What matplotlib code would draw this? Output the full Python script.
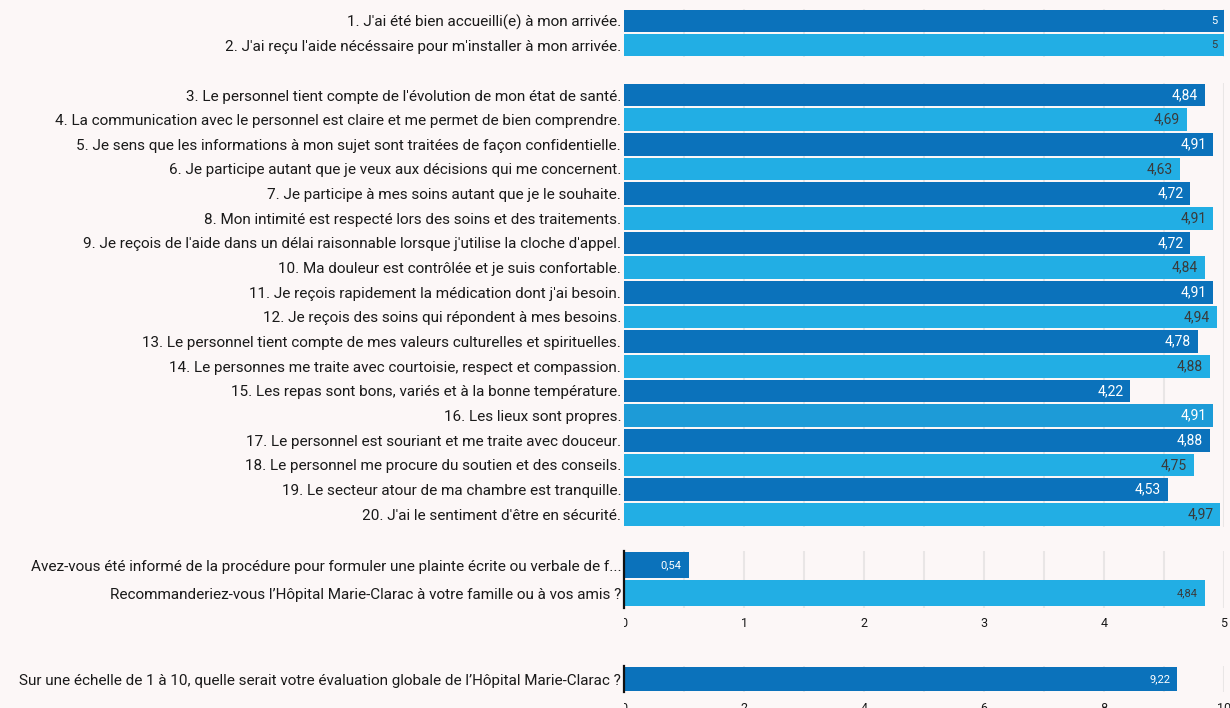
import matplotlib
matplotlib.use("Agg")
import matplotlib.pyplot as plt
import matplotlib.transforms as mtransforms
import numpy as np

plt.rcParams['font.family'] = ['Roboto', 'DejaVu Sans']

# ---- data ----
accueil_labels = [
    "1. J'ai été bien accueilli(e) à mon arrivée.",
    "2. J'ai reçu l'aide nécéssaire pour m'installer à mon arrivée.",
]
accueil_values = [5, 5]

soins_labels = [
    "3. Le personnel tient compte de l'évolution de mon état de santé.",
    "4. La communication avec le personnel est claire et me permet de bien comprendre.",
    "5. Je sens que les informations à mon sujet sont traitées de façon confidentielle.",
    "6. Je participe autant que je veux aux décisions qui me concernent.",
    "7. Je participe à mes soins autant que je le souhaite.",
    "8. Mon intimité est respecté lors des soins et des traitements.",
    "9. Je reçois de l'aide dans un délai raisonnable lorsque j'utilise la cloche d'appel.",
    "10. Ma douleur est contrôlée et je suis confortable.",
    "11. Je reçois rapidement la médication dont j'ai besoin.",
    "12. Je reçois des soins qui répondent à mes besoins.",
    "13. Le personnel tient compte de mes valeurs culturelles et spirituelles.",
    "14. Le personnes me traite avec courtoisie, respect et compassion.",
    "15. Les repas sont bons, variés et à la bonne température.",
    "16. Les lieux sont propres.",
    "17. Le personnel est souriant et me traite avec douceur.",
    "18. Le personnel me procure du soutien et des conseils.",
    "19. Le secteur atour de ma chambre est tranquille.",
    "20. J'ai le sentiment d'être en sécurité.",
]
soins_values = [4.84, 4.69, 4.91, 4.63, 4.72, 4.91, 4.72, 4.84, 4.91,
                4.94, 4.78, 4.88, 4.22, 4.91, 4.88, 4.75, 4.53, 4.97]

plainte_labels = [
    "Avez-vous été informé de la procédure pour formuler une plainte écrite ou verbale de f...",
    "Recommanderiez-vous l’Hôpital Marie-Clarac à votre famille ou à vos amis ?",
]
plainte_values = [0.54, 4.84]

globale_labels = [
    "Sur une échelle de 1 à 10, quelle serait votre évaluation globale de l’Hôpital Marie-Clarac ?",
]
globale_values = [9.22]

# ---- style ----
BG = "#fcf7f7"
DARK = "#0b72bb"
LIGHT = "#22aee4"
MID = "#1d9bd7"
GRID = "#e9e6e6"
TXT_DARK = "#3a3a3a"
W, H = 1230, 708

fig = plt.figure(figsize=(W / 100, H / 100), dpi=100, facecolor=BG)

X0, X1 = 624, 1224


def make_axes(top_px, bottom_px):
    return fig.add_axes([X0 / W, 1 - bottom_px / H, (X1 - X0) / W,
                         (bottom_px - top_px) / H])


def style_axes(ax, xmax, grid_step, spine=False):
    ax.set_facecolor("none")
    ax.set_xlim(0, xmax)
    for s in ax.spines.values():
        s.set_visible(False)
    if spine:
        ax.spines['left'].set_visible(True)
        ax.spines['left'].set_color("#111111")
        ax.spines['left'].set_linewidth(1.6)
    ax.set_axisbelow(True)
    for gx in np.arange(grid_step, xmax + 1e-9, grid_step):
        ax.axvline(gx, color=GRID, lw=1.5, zorder=0)
    ax.tick_params(axis='y', length=0, pad=2, labelsize=11, labelcolor="#1a1a1a")
    ax.tick_params(axis='x', length=0, pad=7, labelsize=9, labelcolor="#1a1a1a")


def draw_bars(ax, labels, values, colors, label_colors, fs):
    y = np.arange(len(values))
    ax.barh(y, values, height=0.92, color=colors, zorder=2)
    ax.set_ylim(len(values) - 0.5, -0.5)
    ax.set_yticks(y)
    ax.set_yticklabels(labels)
    for yi, v, c in zip(y, values, label_colors):
        txt = f"{v:g}".replace(".", ",")
        ax.annotate(txt, xy=(v, yi), xytext=(-5, 0), textcoords="offset points",
                    ha="right", va="center", fontsize=fs, color=c, zorder=3)


# panel 1
ax1 = make_axes(9, 57)
style_axes(ax1, 5, 0.5)
draw_bars(ax1, accueil_labels, accueil_values, [DARK, LIGHT],
          ["white", TXT_DARK], 8)
ax1.set_xticks([])

# panel 2
ax2 = make_axes(82.7, 526.5)
style_axes(ax2, 5, 0.5)
soins_colors = [DARK if i % 2 == 0 else LIGHT for i in range(len(soins_values))]
soins_colors[13] = MID
soins_text = ["white" if c != LIGHT else TXT_DARK for c in soins_colors]
draw_bars(ax2, soins_labels, soins_values, soins_colors, soins_text, 10)
ax2.set_xticks([])

# panel 3
ax3 = make_axes(551, 607.5)
style_axes(ax3, 5, 0.5, spine=True)
draw_bars(ax3, plainte_labels, plainte_values, [DARK, LIGHT],
          ["white", TXT_DARK], 8)
ax3.set_xticks(np.arange(0, 6, 1))
ax3.set_xticklabels([str(i) for i in range(6)])

# panel 4
ax4 = make_axes(666, 692)
style_axes(ax4, 10, 1, spine=True)
draw_bars(ax4, globale_labels, globale_values, [DARK], ["white"], 8)
ax4.set_xticks(np.arange(0, 11, 2))
ax4.set_xticklabels([str(i) for i in range(0, 11, 2)])

# tick labels are cut at the left edge of the plotting area
for ax in (ax3, ax4):
    clip = mtransforms.TransformedBbox(mtransforms.Bbox([[0, -2], [1.2, 1]]),
                                       ax.transAxes)
    for lab in ax.get_xticklabels():
        lab.set_clip_on(True)
        lab.set_clip_box(clip)

fig.savefig("out.png", dpi=100, facecolor=BG)
